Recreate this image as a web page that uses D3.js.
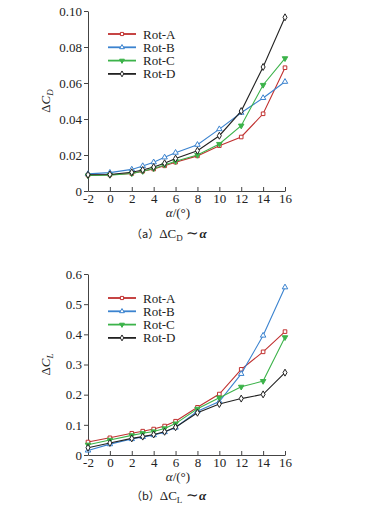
<!DOCTYPE html>
<html>
<head>
<meta charset="utf-8">
<script src="https://cdn.jsdelivr.net/npm/d3@7"></script>
<style>
  body { margin: 0; background: #fff; }
  .axis path, .axis line { stroke: #444; }
</style>
</head>
<body>
<svg id="chart" width="366" height="510"></svg>
<script>
var alpha = [-2, 0, 2, 3, 4, 5, 6, 8, 10, 12, 14, 16];
var series = ["Rot-A", "Rot-B", "Rot-C", "Rot-D"];

// drag increment
var cdA = [0.0088, 0.0090, 0.0097, 0.0110, 0.0122, 0.0140, 0.0160, 0.0195, 0.0252, 0.0300, 0.0429, 0.0685];
var cdB = [0.0095, 0.0102, 0.0120, 0.0139, 0.0160, 0.0187, 0.0213, 0.0257, 0.0344, 0.0435, 0.0517, 0.0607];
var cdC = [0.0086, 0.0088, 0.0097, 0.0110, 0.0125, 0.0145, 0.0165, 0.0200, 0.0261, 0.0363, 0.0589, 0.0737];
var cdD = [0.0090, 0.0092, 0.0104, 0.0117, 0.0133, 0.0154, 0.0180, 0.0224, 0.0307, 0.0444, 0.0689, 0.0965];

// lift increment
var clA = [0.043, 0.057, 0.072, 0.079, 0.086, 0.096, 0.112, 0.158, 0.202, 0.284, 0.342, 0.409];
var clB = [0.015, 0.036, 0.053, 0.060, 0.066, 0.076, 0.091, 0.145, 0.177, 0.269, 0.396, 0.556];
var clC = [0.034, 0.050, 0.065, 0.072, 0.078, 0.088, 0.104, 0.153, 0.190, 0.226, 0.245, 0.390];
var clD = [0.024, 0.040, 0.055, 0.061, 0.068, 0.077, 0.092, 0.140, 0.169, 0.187, 0.201, 0.273];

var xTicks = [-2, 0, 2, 4, 6, 8, 10, 12, 14, 16];
var cdTicks = [0, 0.02, 0.04, 0.06, 0.08, 0.10];
var clTicks = [0, 0.1, 0.2, 0.3, 0.4, 0.5, 0.6];

var colors = ["#c0302f", "#3b83cf", "#3cb34a", "#222222"];
var shapes = [d3.symbolSquare, d3.symbolTriangle, d3.symbolTriangle, d3.symbolDiamond];
var fills = ["#fff", "#fff", "#3cb34a", "#fff"];
var rotate = [0, 0, 180, 0];
var serif = "'Liberation Serif', 'Times New Roman', serif";

var svg = d3.select("#chart");

function panel(top, bottom, yMax, yTicks, yFmt, data, sub, letter, legendY, capDy) {
  var x = d3.scaleLinear().domain([-2, 16]).range([88, 285]);
  var y = d3.scaleLinear().domain([0, yMax]).range([bottom, top]);
  var g = svg.append("g");

  var xa = g.append("g").attr("class", "axis")
    .attr("transform", "translate(0," + bottom + ")")
    .call(d3.axisBottom(x).tickValues(xTicks).tickSizeInner(-4).tickSizeOuter(0).tickPadding(3)
      .tickFormat(function (d) { return d < 0 ? "-" + Math.abs(d) : d; }));

  var ya = g.append("g").attr("class", "axis")
    .attr("transform", "translate(88,0)")
    .call(d3.axisLeft(y).tickValues(yTicks).tickSizeInner(4).tickSizeOuter(0).tickPadding(2)
      .tickFormat(function (d) { return d === 0 ? "0" : yFmt(d); }));

  [xa, ya].forEach(function (a) {
    a.attr("font-family", serif).attr("font-size", 13);
    a.selectAll("text").attr("fill", "#222");
  });

  var line = d3.line()
    .x(function (d, i) { return x(alpha[i]); })
    .y(function (d) { return y(d); });

  data.forEach(function (vals, k) {
    g.append("path").datum(vals)
      .attr("fill", "none")
      .attr("stroke", colors[k])
      .attr("stroke-width", 1.1)
      .attr("d", line);
    g.selectAll(null).data(vals).enter().append("path")
      .attr("d", d3.symbol().type(shapes[k]).size(k == 3 ? 14 : 13))
      .attr("transform", function (d, i) {
        return "translate(" + x(alpha[i]) + "," + y(d) + ") rotate(" + rotate[k] + ")";
      })
      .attr("fill", fills[k])
      .attr("stroke", colors[k])
      .attr("stroke-width", 1);
  });

  // legend
  series.forEach(function (name, k) {
    var ly = legendY + k * 13.3;
    g.append("line").attr("x1", 108).attr("x2", 136).attr("y1", ly).attr("y2", ly)
      .attr("stroke", colors[k]).attr("stroke-width", 1.8);
    g.append("path")
      .attr("d", d3.symbol().type(shapes[k]).size(10))
      .attr("transform", "translate(122," + ly + ") rotate(" + rotate[k] + ")")
      .attr("fill", fills[k]).attr("stroke", colors[k]).attr("stroke-width", 1);
    g.append("text").attr("x", 143).attr("y", ly + 4.5)
      .attr("font-family", serif).attr("font-size", 13).attr("fill", "#222").text(name);
  });

  // y title
  var yt = g.append("text")
    .attr("transform", "translate(50," + ((top + bottom) / 2) + ") rotate(-90)")
    .attr("text-anchor", "middle").attr("font-family", serif)
    .attr("font-size", 13).attr("fill", "#222");
  yt.append("tspan").text("Δ");
  yt.append("tspan").attr("font-style", "italic").text("C");
  yt.append("tspan").attr("font-style", "italic").attr("font-size", 9).attr("dy", 3).text(sub);

  // x title
  var xt = g.append("text").attr("x", 178).attr("y", bottom + 26)
    .attr("text-anchor", "middle").attr("font-family", serif)
    .attr("font-size", 13).attr("fill", "#222");
  xt.append("tspan").attr("font-style", "italic").text("α");
  xt.append("tspan").text("/(°)");

  // caption
  var cap = g.append("text").attr("x", 131).attr("y", bottom + capDy)
    .attr("font-family", serif).attr("font-size", 13).attr("fill", "#222");
  cap.append("tspan").attr("font-family", "'Noto Sans CJK SC'").attr("font-size", 11).text("（" + letter + "）");
  cap.append("tspan").text("ΔC");
  cap.append("tspan").attr("font-size", 9).attr("dy", 3).text(sub);
  cap.append("tspan").attr("dy", -3).attr("font-size", 15).text(" ∼");
  cap.append("tspan").attr("font-style", "italic").attr("font-weight", "bold").text("α");
}

panel(11, 191, 0.10, cdTicks, d3.format(".2f"), [cdA, cdB, cdC, cdD], "D", "a", 34, 47);
panel(274, 455, 0.6, clTicks, d3.format(".1f"), [clA, clB, clC, clD], "L", "b", 298, 45);
</script>
</body>
</html>
